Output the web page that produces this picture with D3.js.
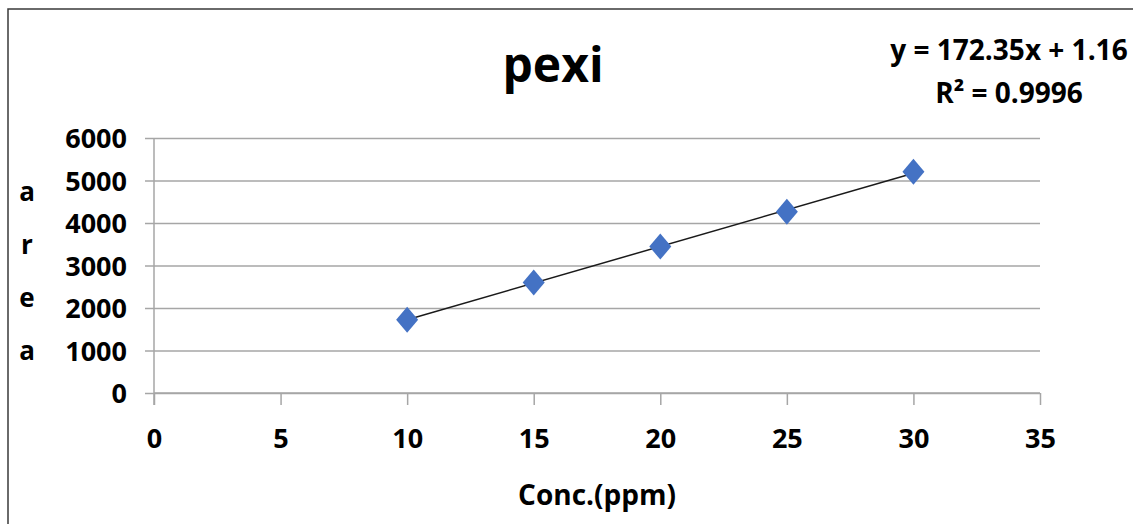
<!DOCTYPE html>
<html>
<head>
<meta charset="utf-8">
<script src="https://cdn.jsdelivr.net/npm/d3@7"></script>
<style>
  body { margin: 0; background: #fff; }
  svg text { font-family: 'Open Sans', sans-serif; font-weight: 700; fill: #000; }
  .grid line { stroke: #a6a6a6; stroke-width: 1.5; }
  .grid path { display: none; }
  .axis path, .axis line { stroke: #a6a6a6; stroke-width: 1.5; }
</style>
</head>
<body>
<div id="chart--wrap"></div>
<script>
const conc = [10, 15, 20, 25, 30];
const area = [1725, 2600, 3445, 4265, 5206];
const xTickValues = [0, 5, 10, 15, 20, 25, 30, 35];
const yTickValues = [0, 1000, 2000, 3000, 4000, 5000, 6000];
const slope = 172.35;
const intercept = 1.16;
const titleText = 'pexi';
const eqText = 'y = 172.35x + 1.16';
const r2Text = 'R² = 0.9996';
const yLabel = ['a', 'r', 'e', 'a'];
const xLabel = 'Conc.(ppm)';

const W = 1133, H = 524;
const margin = { top: 138, right: 93, bottom: 131, left: 154 };
const width = W - margin.left - margin.right;
const height = H - margin.top - margin.bottom;

const svg = d3.select('#chart--wrap').append('svg')
  .attr('width', W)
  .attr('height', H);

// frame
svg.append('path')
  .attr('d', `M8,${H} V9 H${W}`)
  .attr('fill', 'none')
  .attr('stroke', '#3a3a3a')
  .attr('stroke-width', 1.5);

const g = svg.append('g')
  .attr('transform', `translate(${margin.left}, ${margin.top})`);

const x = d3.scaleLinear().domain([0, 35]).range([0, width]);
const y = d3.scaleLinear().domain([0, 6000]).range([height, 0]);

// grid lines
g.append('g')
  .attr('class', 'grid')
  .call(d3.axisLeft(y).tickValues(yTickValues).tickSize(-width).tickFormat(''));

// y axis
const yAxis = g.append('g')
  .attr('class', 'axis')
  .call(d3.axisLeft(y).tickValues(yTickValues).tickFormat(d3.format('d'))
    .tickSizeOuter(0).tickSize(9).tickPadding(18));
yAxis.select('.domain').attr('d', `M0,0 V${height + 12}`);
yAxis.selectAll('text').style('font-size', '27px').attr('dy', '0.36em');

// x axis
const xAxis = g.append('g')
  .attr('class', 'axis')
  .attr('transform', `translate(0, ${height})`)
  .call(d3.axisBottom(x).tickValues(xTickValues).tickSizeOuter(0).tickSize(12).tickPadding(24));
xAxis.select('.domain').attr('d', `M0,0 H${width}`);
xAxis.selectAll('text').style('font-size', '27px');

// trendline
const line = d3.line().x(d => x(d)).y(d => y(slope * d + intercept));
g.append('path')
  .attr('d', line([d3.min(conc), d3.max(conc)]))
  .attr('fill', 'none')
  .attr('stroke', '#1a1a1a')
  .attr('stroke-width', 1.5);

// points
const diamond = 'M0,-13 L11,0 L0,13 L-11,0 Z';
g.selectAll('.pt')
  .data(conc)
  .enter()
  .append('path')
  .attr('class', 'pt')
  .attr('transform', (d, i) => `translate(${x(d)}, ${y(area[i])})`)
  .attr('d', diamond)
  .attr('fill', '#4472c4');

// titles
svg.append('text')
  .attr('x', 553).attr('y', 82)
  .attr('text-anchor', 'middle')
  .style('font-size', '48px')
  .text(titleText);

svg.append('text')
  .attr('x', 1009).attr('y', 60)
  .attr('text-anchor', 'middle')
  .style('font-size', '28px')
  .text(eqText);

svg.append('text')
  .attr('x', 1009).attr('y', 103)
  .attr('text-anchor', 'middle')
  .style('font-size', '28px')
  .text(r2Text);

svg.selectAll('.ylab')
  .data(yLabel)
  .enter()
  .append('text')
  .attr('class', 'ylab')
  .attr('x', 27)
  .attr('y', (d, i) => 201 + i * 53)
  .attr('text-anchor', 'middle')
  .style('font-size', '26px')
  .text(d => d);

svg.append('text')
  .attr('x', 597).attr('y', 505)
  .attr('text-anchor', 'middle')
  .style('font-size', '28px')
  .text(xLabel);
</script>
</body>
</html>
